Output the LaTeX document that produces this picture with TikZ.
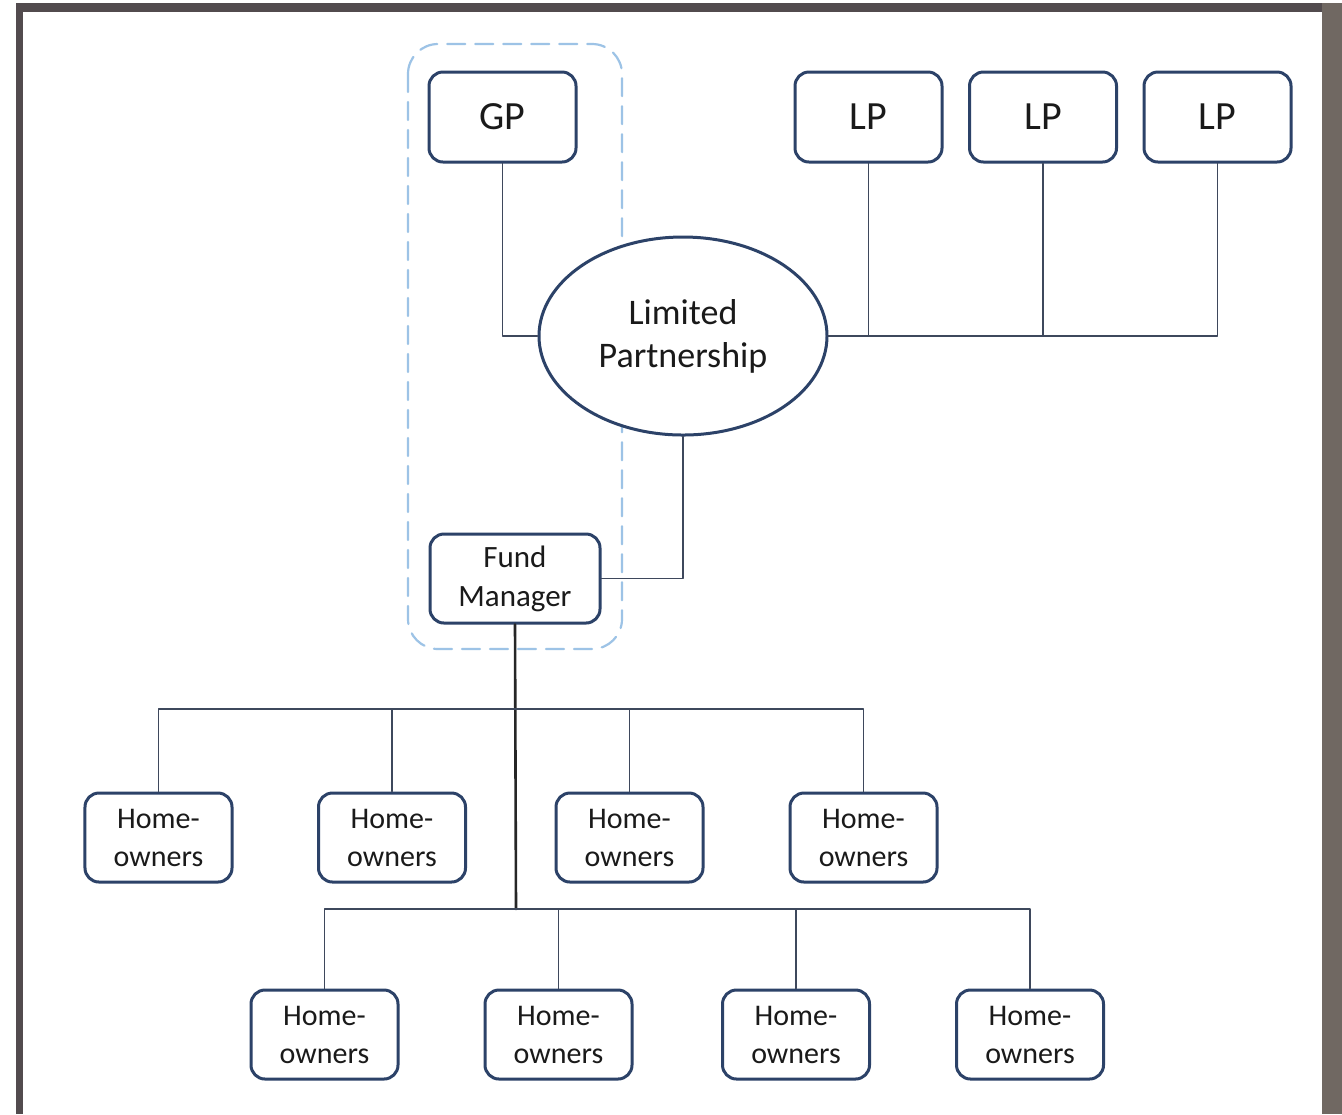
\documentclass[tikz,border=0pt]{standalone}
\usepackage{fontspec}
\setmainfont{Carlito}
\usetikzlibrary{shapes.geometric}
\definecolor{ChartNavy}{RGB}{44,66,104}
\definecolor{ChartLine}{RGB}{62,72,92}
\definecolor{ChartDash}{RGB}{157,195,230}
\definecolor{ChartFrame}{RGB}{82,75,78}
\definecolor{ChartFrameRight}{RGB}{112,104,98}
\definecolor{ChartText}{RGB}{26,26,26}

\begin{document}
\begin{tikzpicture}[x=0.5bp,y=-0.5bp,line cap=round,line join=round]
  \path[use as bounding box] (0,0) rectangle (1342,1114);
  \fill[white] (0,0) rectangle (1342,1114);

  \tikzset{
    party/.style={draw=ChartNavy,line width=1.5bp,fill=white,rounded corners=7bp,
      minimum width=73.5bp,minimum height=45bp,inner sep=0pt,text=ChartText,
      font=\fontsize{20bp}{24bp}\selectfont},
    owner/.style={draw=ChartNavy,line width=1.5bp,fill=white,rounded corners=7bp,
      minimum width=73.5bp,minimum height=44.5bp,inner sep=0pt,text=ChartText,
      align=center,font=\fontsize{15bp}{19bp}\selectfont},
    link/.style={draw=ChartLine,line width=0.9bp},
  }

  % frame of the screenshot
  \fill[ChartFrame] (16,3) rectangle (1322,12);
  \fill[ChartFrame] (16,3) rectangle (23,1114);
  \fill[ChartFrameRight] (1322,3) rectangle (1342,1114);

  % GP and fund manager group
  \draw[ChartDash,line width=1.1bp,dash pattern=on 9bp off 5bp,rounded corners=15bp]
    (408,44) rectangle (622,649);

  % partners
  \node[party] (gp) at (502.5,117) {GP};
  \foreach \i/\x in {1/868.5,2/1043,3/1217.5}
    \node[party] (lp\i) at (\x,117) {LP};

  \node[ellipse,draw=ChartNavy,line width=1.5bp,fill=white,inner sep=0pt,
    minimum width=144bp,minimum height=99bp,align=center,text=ChartText,
    font=\fontsize{18bp}{21.5bp}\selectfont] (ltd) at (683,336)
    {Limited\\Partnership};

  \node[owner,minimum width=85bp,font=\fontsize{15.5bp}{19.5bp}\selectfont]
    (fm) at (515,578.5) {Fund\\Manager};

  \draw[link] (gp.south) |- (ltd.west);
  \foreach \i in {1,2,3}
    \draw[link] (lp\i.south) |- (ltd.east);
  \draw[link] (ltd.south) |- (fm.east);

  % homeowners
  \coordinate (bus1) at (516,709);
  \coordinate (bus2) at (516,909);
  \draw[link,line width=1.3bp,draw=black!85] (fm.south) -- (bus2);

  \foreach \i/\x in {1/158.5,2/392,3/629.5,4/863.5} {
    \node[owner] (ho\i) at (\x,837.5) {Home-\\owners};
    \draw[link] (ho\i.north) |- (bus1);
  }
  \foreach \i/\x in {5/324.5,6/558.5,7/796,8/1030} {
    \node[owner] (ho\i) at (\x,1034.5) {Home-\\owners};
    \draw[link] (ho\i.north) |- (bus2);
  }
\end{tikzpicture}
\end{document}
